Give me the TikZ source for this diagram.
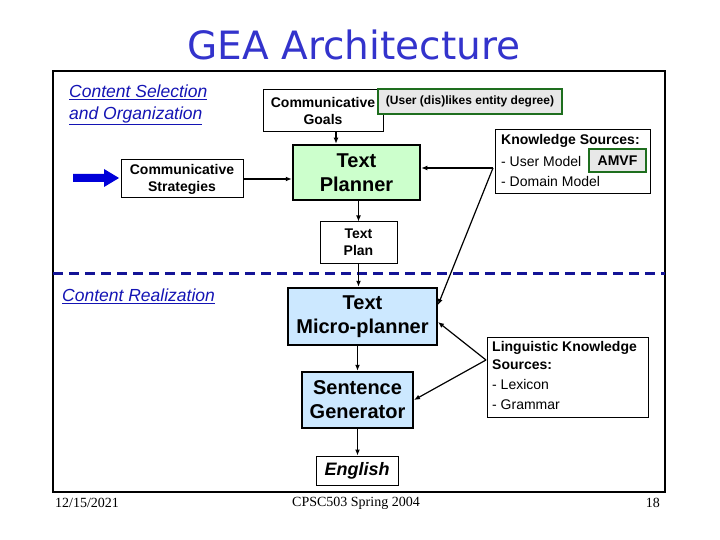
\documentclass[tikz,border=0pt]{standalone}
\usepackage{fontspec}
\setmainfont{Liberation Sans}
\newfontfamily\titlefont{DejaVu Sans}
\newfontfamily\footfont{Liberation Serif}
\usetikzlibrary{arrows.meta}
\definecolor{titleblue}{RGB}{51,51,204}
\definecolor{linkblue}{RGB}{20,20,180}
\definecolor{dashblue}{RGB}{20,20,150}
\definecolor{tpgreen}{RGB}{204,255,204}
\definecolor{mpblue}{RGB}{204,232,255}
\definecolor{tagfill}{RGB}{232,232,232}
\definecolor{taggreen}{RGB}{30,110,30}
\tikzset{
  plainbox/.style={draw=black, line width=1pt, fill=white, inner sep=0pt, align=center, font=\fontsize{14}{17}\selectfont\bfseries},
  bigbox/.style={draw=black, line width=2.5pt, inner sep=0pt, align=center, font=\fontsize{20}{24}\selectfont\bfseries},
  tagbox/.style={draw=taggreen, line width=2.5pt, fill=tagfill, inner sep=0pt, align=center, font=\fontsize{12}{14}\selectfont\bfseries},
  infobox/.style={draw=black, line width=0.8pt, fill=white, inner sep=0pt},
  infotext/.style={anchor=west, inner sep=0pt, font=\fontsize{14}{16}\selectfont},
  arr/.style={-{Latex[length=6pt,width=5pt]}, line width=1.2pt, black},
  sectlabel/.style={anchor=west, inner sep=0pt, text=linkblue, font=\fontsize{17.5}{22}\selectfont\itshape, align=left},
  foot/.style={inner sep=0pt, font=\footfont\fontsize{14}{16}\selectfont}
}
\begin{document}
\begin{tikzpicture}[x=1pt,y=-1pt]
\useasboundingbox (0,0) rectangle (720,540);
% title
\node[inner sep=0pt, text=titleblue, font=\titlefont\fontsize{39}{44}\selectfont] (title) at (354,45) {GEA Architecture};
% frame
\draw[line width=2pt] (53,71) rectangle (665,492);
% dashed separator
\draw[dashblue, line width=3pt, dash pattern=on 10pt off 6pt] (53,273) -- (665,273);
% section labels
\node[sectlabel] (csl) at (69,105) {\underline{Content Selection}\\\underline{and Organization}};
\node[sectlabel] (crl) at (62,296) {\underline{Content Realization}};
% boxes
\node[plainbox, minimum width=122pt, minimum height=38pt] (cs) at (182,179) {Communicative\\Strategies};
\node[plainbox, minimum width=120pt, minimum height=42pt] (cg) at (323,111) {Communicative\\Goals};
\node[tagbox, minimum width=184pt, minimum height=25pt] (tag) at (470,101.5) {(User (dis)likes entity degree)};
\node[bigbox, fill=tpgreen, minimum width=127pt, minimum height=55pt] (tp) at (356.5,172.5) {Text\\Planner};
\node[plainbox, minimum width=77pt, minimum height=41pt] (plan) at (358.5,242.5) {Text\\Plan};
\node[bigbox, fill=mpblue, minimum width=149pt, minimum height=57pt] (mp) at (362.5,316.5) {Text\\Micro-planner};
\node[bigbox, fill=mpblue, minimum width=111pt, minimum height=56pt] (sg) at (357.5,400) {Sentence\\Generator};
\node[plainbox, minimum width=82pt, minimum height=29pt, font=\fontsize{18}{20}\selectfont\bfseries\itshape] (eng) at (357,470.5) {English};
% knowledge sources
\node[infobox, minimum width=155pt, minimum height=64pt] (ks) at (572.5,161) {};
\node[infotext, font=\fontsize{14}{16}\selectfont\bfseries] (ks1) at (501,141) {Knowledge Sources:};
\node[infotext] (ks2) at (501,161) {- User Model};
\node[infotext] (ks3) at (501,181) {- Domain Model};
\node[tagbox, font=\fontsize{14}{16}\selectfont\bfseries, minimum width=57pt, minimum height=23pt] (amvf) at (617.5,160.5) {AMVF};
% linguistic knowledge sources
\node[infobox, minimum width=161pt, minimum height=80pt] (lks) at (567.5,377) {};
\node[infotext, font=\fontsize{14}{16}\selectfont\bfseries] (lks1) at (492,348) {Linguistic Knowledge};
\node[infotext, font=\fontsize{14}{16}\selectfont\bfseries] (lks2) at (492,365) {Sources:};
\node[infotext] (lks3) at (492,384) {- Lexicon};
\node[infotext] (lks4) at (492,405) {- Grammar};
% footer
\node[foot, anchor=west] (date) at (55,503) {12/15/2021};
\node[foot] (course) at (356,503) {CPSC503 Spring 2004};
\node[foot, anchor=east] (page) at (660,503) {18};
% blue input arrow
\fill[blue!85!black] (73,174) -- (104,174) -- (104,169) -- (119,178) -- (104,187) -- (104,182) -- (73,182) -- cycle;
% connection points
\coordinate (ksp) at (493,168);
\coordinate (lksp) at (486,360);
% arrows
\draw[arr] (cs.east) -- (cs.east -| tp.west);
\draw[arr] (cg.south -| 336,0) -- (tp.north -| 336,0);
\draw[arr] (tp.south -| plan.north) -- (plan.north);
\draw[arr] (plan.south) -- (plan.south |- mp.north);
\draw[arr] (mp.south -| sg.north) -- (sg.north);
\draw[arr] (sg.south) -- (sg.south |- eng.north);
\draw[arr] (ksp) -- (ksp -| tp.east);
\draw[arr] (ksp) -- (438,305);
\draw[arr] (lksp) -- (438,322);
\draw[arr] (lksp) -- (414,400);
\end{tikzpicture}
\end{document}
